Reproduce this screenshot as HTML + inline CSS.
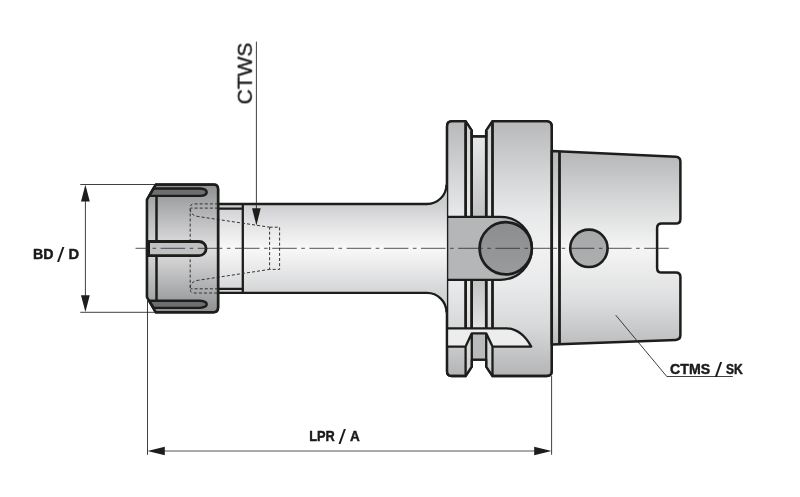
<!DOCTYPE html>
<html lang="en">
<head>
<meta charset="utf-8">
<title>Tool holder drawing</title>
<style>
html,body{margin:0;padding:0;background:#fff;}
body{width:800px;height:497px;overflow:hidden;}
svg{display:block;}
text{font-family:"Liberation Sans",sans-serif;fill:#1a1a1a;}
.o{stroke:#1d1d1b;stroke-width:2.3;stroke-linejoin:round;stroke-linecap:butt;}
.l{stroke:#1d1d1b;stroke-width:2.3;fill:none;stroke-linecap:butt;}
.t{stroke:#2a2a2a;stroke-width:0.9;fill:none;}
.h{stroke:#333;stroke-width:1;fill:none;stroke-dasharray:3 2.1;}
.c{stroke:#2a2a2a;stroke-width:0.8;fill:none;stroke-dasharray:24.6 4.5 3.6 4.5;stroke-dashoffset:12.1;}
.a{fill:#1d1d1b;stroke:none;}
.b{font-weight:bold;font-size:15.2px;stroke:#1a1a1a;stroke-width:0.45px;stroke-linejoin:round;}
.s{font-size:20px;font-weight:normal;stroke:none;}
</style>
</head>
<body>
<svg width="800" height="497" viewBox="0 0 800 497">
<defs>
<linearGradient id="gNut" x1="0" y1="184.6" x2="0" y2="312.1" gradientUnits="userSpaceOnUse">
<stop offset="0" stop-color="#8f9092"/><stop offset="0.5" stop-color="#e0e0e1"/><stop offset="1" stop-color="#8f9092"/>
</linearGradient>
<linearGradient id="gNutL" x1="0" y1="184.6" x2="0" y2="312.1" gradientUnits="userSpaceOnUse">
<stop offset="0" stop-color="#98999b"/><stop offset="0.5" stop-color="#dadbdc"/><stop offset="1" stop-color="#98999b"/>
</linearGradient>
<linearGradient id="gShaft" x1="0" y1="204" x2="0" y2="292.9" gradientUnits="userSpaceOnUse">
<stop offset="0" stop-color="#cdced0"/><stop offset="0.3" stop-color="#e9e9ea"/><stop offset="0.5" stop-color="#f8f8f8"/><stop offset="0.7" stop-color="#ebebec"/><stop offset="1" stop-color="#d3d4d5"/>
</linearGradient>
<linearGradient id="gFl" x1="0" y1="121" x2="0" y2="376" gradientUnits="userSpaceOnUse">
<stop offset="0" stop-color="#b8b9bb"/><stop offset="0.37" stop-color="#e8e9ea"/><stop offset="0.5" stop-color="#f1f1f2"/><stop offset="0.64" stop-color="#e9eaeb"/><stop offset="0.8" stop-color="#d8d9da"/><stop offset="0.9" stop-color="#c6c7c9"/><stop offset="1" stop-color="#b3b4b6"/>
</linearGradient>
<linearGradient id="gFlL" x1="0" y1="121" x2="0" y2="376" gradientUnits="userSpaceOnUse">
<stop offset="0" stop-color="#cfd0d1"/><stop offset="0.5" stop-color="#f2f2f2"/><stop offset="1" stop-color="#cfd0d1"/>
</linearGradient>
<linearGradient id="gTp" x1="0" y1="151" x2="0" y2="345" gradientUnits="userSpaceOnUse">
<stop offset="0" stop-color="#b5b6b8"/><stop offset="0.25" stop-color="#d5d6d7"/><stop offset="0.5" stop-color="#f5f5f5"/><stop offset="0.77" stop-color="#dddedf"/><stop offset="1" stop-color="#bcbdbf"/>
</linearGradient>
<linearGradient id="gGr" x1="0" y1="136" x2="0" y2="360" gradientUnits="userSpaceOnUse">
<stop offset="0" stop-color="#e6e7e8"/><stop offset="0.36" stop-color="#c1c2c4"/><stop offset="0.64" stop-color="#c1c2c4"/><stop offset="0.86" stop-color="#e2e3e4"/><stop offset="1" stop-color="#e6e7e8"/>
</linearGradient>
<linearGradient id="gC1" x1="0" y1="222" x2="0" y2="275" gradientUnits="userSpaceOnUse">
<stop offset="0" stop-color="#8c8d8f"/><stop offset="1" stop-color="#9a9b9d"/>
</linearGradient>
<linearGradient id="gC2" x1="0" y1="229" x2="0" y2="268" gradientUnits="userSpaceOnUse">
<stop offset="0" stop-color="#a7a8aa"/><stop offset="1" stop-color="#adaeb0"/>
</linearGradient>
</defs>
<rect width="800" height="497" fill="#fff"/>

<!-- FLANGE -->
<g id="flange">
<path class="o" fill="url(#gFl)" d="M447,126.2 Q447,121.2 452,121.2 L465.6,121.2 L471.8,130.6 L471.8,136.5 L486.2,136.5 L486.2,130.6 L492.5,121.2 L546.3,121.2 Q551.8,121.2 551.8,126.7 L551.8,371.0 Q551.8,376.0 546.8,376.0 L492.5,376.0 L486.2,366.6 L486.2,359.7 L471.8,359.7 L471.8,366.6 L465.6,376.0 L451.5,376.0 Q447,376.0 447,371.5 Z"/>
<path fill="url(#gFlL)" d="M465.6,121.2 L471.8,130.6 V366.6 L465.6,376.0 Z M492.5,121.2 L486.2,130.6 V366.6 L492.5,376.0 Z"/>
<path fill="url(#gGr)" d="M471.8,136.5 H486.2 V328.3 H471.8 Z"/>
<path fill="#ededee" d="M447,328.3 H507 Q522,329.3 531.2,346.6 H447 Z"/>
<path fill="#b9babc" d="M471.8,333.3 H486.2 V359.7 H471.8 Z"/>
<path fill="url(#gFlL)" d="M465.6,346.6 L471.8,333.3 V366.6 L465.6,376.0 Z M492.5,346.6 L486.2,333.3 V366.6 L492.5,376.0 Z"/>
<path class="l" style="stroke-width:2.8" d="M465.6,122.2 V216.8 M471.6,131 V216.8 M486.3,131 V216.8 M492.5,122.2 V216.8 M465.6,279.8 V328.3 M471.6,279.8 V328.3 M486.3,279.8 V328.3 M492.5,279.8 V328.3"/>
<path class="l" stroke-linejoin="round" d="M447,328.3 H507 Q522,329.3 531.2,346.6 H492.5 L486.2,333.3 H471.8 L465.6,346.6 H447 M465.6,346.6 V376.0 M492.5,346.6 V376.0 M471.8,333.3 V366.6 M486.2,333.3 V366.6"/>
<!-- slot -->
<path class="o" fill="#b5b6b8" d="M447,216.8 H500.5 A31.5,31.5 0 0 1 500.5,279.8 H447 Z"/>
<circle class="o" style="stroke-width:2.7" fill="url(#gC1)" cx="505.7" cy="248.3" r="26.1"/>
<path class="o" fill="none" d="M447,126.2 Q447,121.2 452,121.2 L465.6,121.2 L471.8,130.6 L471.8,136.5 L486.2,136.5 L486.2,130.6 L492.5,121.2 L546.3,121.2 Q551.8,121.2 551.8,126.7 L551.8,371.0 Q551.8,376.0 546.8,376.0 L492.5,376.0 L486.2,366.6 L486.2,359.7 L471.8,359.7 L471.8,366.6 L465.6,376.0 L451.5,376.0 Q447,376.0 447,371.5 Z"/>
</g>

<!-- SHAFT -->
<g id="shaft">
<path fill="url(#gShaft)" d="M218,204 L427,204 A19.5,19.5 0 0 0 446.5,184.5 L446.9,184.5 L446.9,312.4 L446.5,312.4 A19.5,19.5 0 0 0 427,292.9 L218,292.9 Z"/>
<path class="l" d="M218,204 L427,204 A19.5,19.5 0 0 0 446.5,184.5 M218,292.9 L427,292.9 A19.5,19.5 0 0 1 446.5,312.4"/>
<path class="l" d="M218,208.7 H242.8 M218,288.8 H242.8 M242.8,204 V292.9"/>
</g>

<!-- NUT -->
<g id="nut">
<path class="o" fill="url(#gNut)" d="M155.8,184.6 L213.6,184.6 Q218.1,184.6 218.1,189.1 L218.1,307.6 Q218.1,312.3 213.6,312.3 L155.8,312.3 L147,297.1 L147,199.6 Z"/>
<path fill="url(#gNutL)" d="M147,199.6 L155.8,184.6 L156.3,184.6 L156.3,312.1 L155.8,312.1 L147,296.9 Z"/>
<path class="o" style="stroke-width:2.4" fill="#6d6e70" d="M153.4,188.5 H200 C204.5,188.8 206.7,190.6 206.7,192.2 C206.7,193.8 204.5,195.6 200,195.9 H149.2 Z"/>
<path class="o" style="stroke-width:2.4" fill="#6d6e70" d="M153.6,307.9 H200 C204.5,307.6 206.7,305.9 206.7,304.35 C206.7,302.8 204.5,301.1 200,300.8 H149.4 Z"/>
<path class="l" style="stroke-width:2.5" d="M156.5,195.9 V300.8"/>
<!-- hidden collet lines -->
<g id="hidden">
<path class="h" d="M218,203.9 H194 Q190.2,203.9 190.2,207.7 V289.2 Q190.2,293 194,293 H218"/>
<path class="h" d="M218,208.1 H190.5 M218,288.8 H190.5"/>
<path class="h" d="M190.2,209 Q190.4,215.2 198,216.5 L269.6,227.2 M190.2,287.8 Q190.4,281.6 198,280.3 L269.6,269.4"/>
<path class="h" d="M269.6,227.2 H279.6 V269.4 H269.6 Z"/>
</g>
<path class="o" style="stroke-width:2.8" fill="#c0c1c3" d="M148.6,241.5 H199 A7.1,7.1 0 0 1 199,255.7 H148.6 Z"/>
<path class="o" style="stroke-width:2.5" fill="none" d="M155.8,184.6 L213.6,184.6 Q218.1,184.6 218.1,189.1 L218.1,307.6 Q218.1,312.3 213.6,312.3 L155.8,312.3 L147,297.1 L147,199.6 Z"/>
</g>

<!-- TAPER -->
<g id="taper">
<path class="o" style="stroke-width:2.5" fill="url(#gTp)" d="M551.8,151 L675.8,156.7 Q680.4,156.9 680.4,161.5 L680.4,218.9 Q680.4,223.5 675.8,223.5 L661.7,223.5 Q657.1,223.5 657.1,228.1 L657.1,267.9 Q657.1,272.5 661.7,272.5 L675.8,272.5 Q680.4,272.5 680.4,277.1 L680.4,335.09999999999997 Q680.4,339.7 675.8,339.9 L551.8,344.5 Z"/>
<path class="l" style="stroke-width:2.8" d="M559.5,151.5 V344"/>
<circle class="o" style="stroke-width:2.6" fill="url(#gC2)" cx="588.9" cy="248.35" r="18.7"/>
</g>

<!-- centerline -->
<path class="c" d="M135.5,248.3 H669"/>

<!-- dimensions -->
<g id="dims">
<path class="t" d="M80.3,184.5 H155 M80.3,312.3 H155 M85.4,195 V302"/>
<path class="a" d="M85.4,184.7 L89.8,201.6 H81 Z M85.4,312.1 L89.8,295.2 H81 Z"/>
<path class="t" d="M147.5,298 V454.8 M551.6,376 V454.8"/>
<path class="t" style="stroke:#555;stroke-width:1.1" d="M160,451 H540"/>
<path class="a" d="M147.5,451 L164.8,446.7 V455.3 Z M551.5,451 L534.2,446.7 V455.3 Z"/>
<path class="t" d="M256.4,41.6 V212"/>
<path class="a" d="M256.4,225.5 L260.7,208.2 H252.1 Z"/>
<path class="t" d="M615.7,315.1 L666.8,376.5 H732.8"/>
</g>

<!-- labels -->
<g id="labels" opacity="0.999">
<g class="b">
<text x="33.1" y="259.1" textLength="20.5" lengthAdjust="spacingAndGlyphs">BD</text>
<text class="s" x="57" y="261.7" textLength="7.4" lengthAdjust="spacingAndGlyphs">/</text>
<text x="68.4" y="259.1" textLength="10.6" lengthAdjust="spacingAndGlyphs">D</text>
</g>
<g class="b">
<text x="309.2" y="441.3" textLength="25.6" lengthAdjust="spacingAndGlyphs">LPR</text>
<text class="s" x="338.6" y="444" textLength="7.4" lengthAdjust="spacingAndGlyphs">/</text>
<text x="350" y="441.3" textLength="9.8" lengthAdjust="spacingAndGlyphs">A</text>
</g>
<g class="b">
<text x="670.1" y="373.9" textLength="40.1" lengthAdjust="spacingAndGlyphs">CTMS</text>
<text class="s" x="714.7" y="376.6" textLength="7.4" lengthAdjust="spacingAndGlyphs">/</text>
<text x="726" y="373.9" textLength="16.8" lengthAdjust="spacingAndGlyphs">SK</text>
</g>
<text transform="translate(251.8,104.4) rotate(-90)" font-size="20.8" stroke="#1a1a1a" stroke-width="0.35" textLength="61.8" lengthAdjust="spacingAndGlyphs">CTWS</text>
</g>
</svg>
</body>
</html>
